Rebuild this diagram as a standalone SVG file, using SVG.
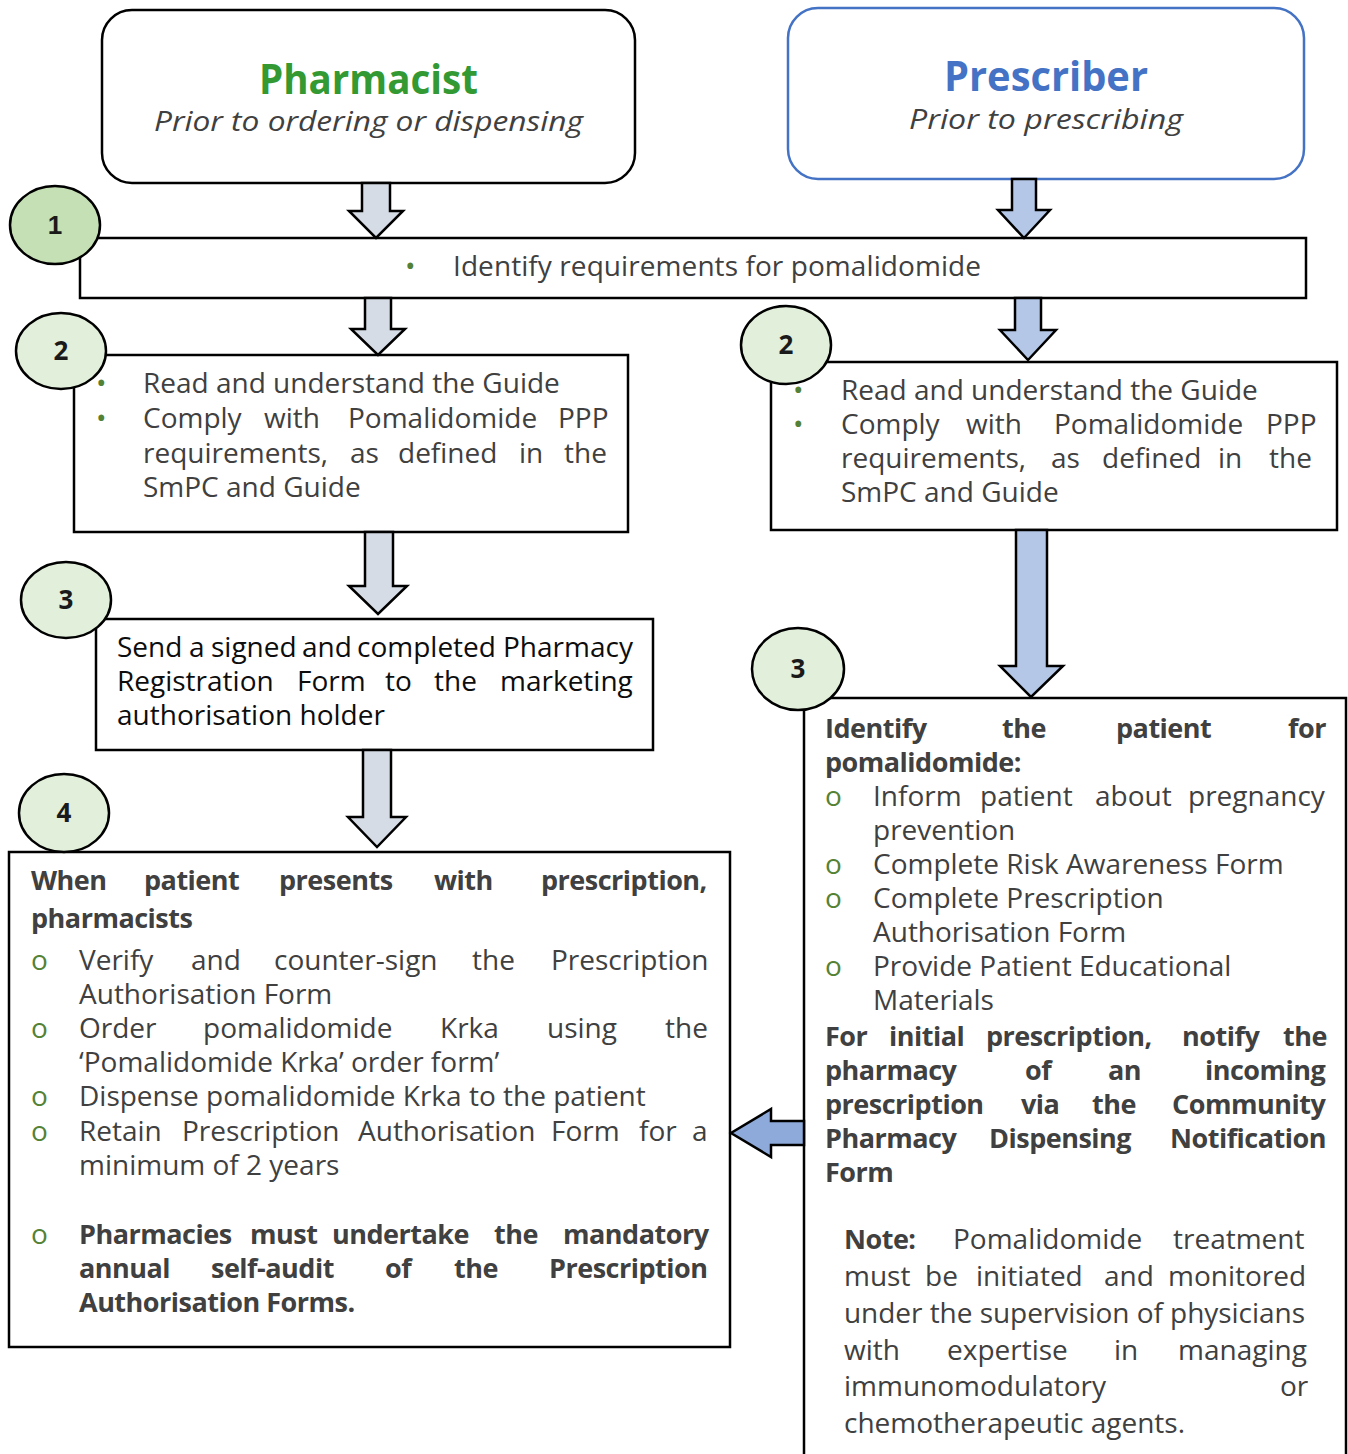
<svg xmlns="http://www.w3.org/2000/svg" width="1348" height="1454" viewBox="0 0 1348 1454">
<style>
.box{fill:#fff;stroke:#000;stroke-width:2.5}
.circ{fill:#e2efda;stroke:#000;stroke-width:2.5}
.t{font-family:"Open Sans","Liberation Sans",sans-serif;font-size:28px;fill:#404040}
.k{fill:#0d0d0d}
.b{font-weight:700;font-size:27px;letter-spacing:-0.5px}
.g{fill:#548235}
.num{font-family:"Open Sans","Liberation Sans",sans-serif;font-size:26px;font-weight:700;fill:#1a1a1a;text-anchor:middle}
.arL{fill:#d6dce5;stroke:#000;stroke-width:2.5;stroke-linejoin:miter}
.arR{fill:#b4c7e7;stroke:#000;stroke-width:2.5}
.arH{fill:#8eaadb;stroke:#000;stroke-width:2.5}
</style>
<rect width="1348" height="1454" fill="#fff"/>

<g id="pharmacist">
<rect x="102" y="10" width="533" height="173" rx="30" class="box"/>
<text x="259" y="94" font-family="Open Sans,sans-serif" font-size="42" font-weight="700" fill="#339933" textLength="219" lengthAdjust="spacingAndGlyphs">Pharmacist</text>
<text x="154" y="131" class="t" font-style="italic" textLength="429" lengthAdjust="spacingAndGlyphs">Prior to ordering or dispensing</text>
</g>

<g id="prescriber">
<rect x="788" y="8" width="516" height="171" rx="30" fill="#fff" stroke="#4472c4" stroke-width="2.5"/>
<text x="944" y="91" font-family="Open Sans,sans-serif" font-size="42" font-weight="700" fill="#4472c4" textLength="204" lengthAdjust="spacingAndGlyphs">Prescriber</text>
<text x="909" y="129" class="t" font-style="italic" textLength="274" lengthAdjust="spacingAndGlyphs">Prior to prescribing</text>
</g>

<g id="step1">
<rect x="80" y="238" width="1226" height="60" class="box"/>
<text x="405" y="276" class="t g">•</text>
<text x="453" y="276" class="t" textLength="528">Identify requirements for pomalidomide</text>
</g>

<g id="pharm-step2">
<rect x="74" y="355" width="554" height="177" class="box"/>
<text x="96" y="393" class="t g">•</text>
<text x="96" y="428" class="t g">•</text>
<text y="393" class="t"><tspan x="143">Read and understand the Guide</tspan></text>
<text y="428" class="t"><tspan x="143">Comply</tspan><tspan x="264">with</tspan><tspan x="348">Pomalidomide</tspan><tspan x="558">PPP</tspan></text>
<text y="463" class="t"><tspan x="143">requirements,</tspan><tspan x="350">as</tspan><tspan x="398">defined</tspan><tspan x="519">in</tspan><tspan x="564">the</tspan></text>
<text y="497" class="t"><tspan x="143">SmPC and Guide</tspan></text>
</g>

<g id="presc-step2">
<rect x="771" y="362" width="566" height="168" class="box"/>
<text x="793" y="400" class="t g">•</text>
<text x="793" y="434" class="t g">•</text>
<text y="400" class="t"><tspan x="841">Read and understand the Guide</tspan></text>
<text y="434" class="t"><tspan x="841">Comply</tspan><tspan x="966">with</tspan><tspan x="1054">Pomalidomide</tspan><tspan x="1266">PPP</tspan></text>
<text y="468" class="t"><tspan x="841">requirements,</tspan><tspan x="1051">as</tspan><tspan x="1102">defined</tspan><tspan x="1218">in</tspan><tspan x="1269">the</tspan></text>
<text y="502" class="t"><tspan x="841">SmPC and Guide</tspan></text>
</g>

<g id="pharm-step3">
<rect x="96" y="619" width="557" height="131" class="box"/>
<text y="657" class="t k"><tspan x="117">Send</tspan><tspan x="189">a</tspan><tspan x="211">signed</tspan><tspan x="302">and</tspan><tspan x="357">completed</tspan><tspan x="503">Pharmacy</tspan></text>
<text y="691" class="t k"><tspan x="117">Registration</tspan><tspan x="297">Form</tspan><tspan x="385">to</tspan><tspan x="434">the</tspan><tspan x="500">marketing</tspan></text>
<text y="725" class="t k"><tspan x="117">authorisation holder</tspan></text>
</g>

<g id="presc-step3">
<rect x="804" y="698" width="542" height="800" class="box"/>
<text y="738" class="t b"><tspan x="825">Identify</tspan><tspan x="1002">the</tspan><tspan x="1116">patient</tspan><tspan x="1288">for</tspan></text>
<text y="772" class="t b"><tspan x="825">pomalidomide:</tspan></text>
<text x="825" y="806" class="t g">o</text>
<text x="825" y="874" class="t g">o</text>
<text x="825" y="908" class="t g">o</text>
<text x="825" y="976" class="t g">o</text>
<text y="806" class="t"><tspan x="873">Inform</tspan><tspan x="980">patient</tspan><tspan x="1095">about</tspan><tspan x="1188">pregnancy</tspan></text>
<text y="840" class="t"><tspan x="873">prevention</tspan></text>
<text y="874" class="t"><tspan x="873">Complete Risk Awareness Form</tspan></text>
<text y="908" class="t"><tspan x="873">Complete Prescription</tspan></text>
<text y="942" class="t"><tspan x="873">Authorisation Form</tspan></text>
<text y="976" class="t"><tspan x="873">Provide Patient Educational</tspan></text>
<text y="1010" class="t"><tspan x="873">Materials</tspan></text>
<text y="1046" class="t b"><tspan x="825">For</tspan><tspan x="889">initial</tspan><tspan x="986">prescription,</tspan><tspan x="1182">notify</tspan><tspan x="1283">the</tspan></text>
<text y="1080" class="t b"><tspan x="825">pharmacy</tspan><tspan x="1025">of</tspan><tspan x="1108">an</tspan><tspan x="1205">incoming</tspan></text>
<text y="1114" class="t b"><tspan x="825">prescription</tspan><tspan x="1021">via</tspan><tspan x="1092">the</tspan><tspan x="1172">Community</tspan></text>
<text y="1148" class="t b"><tspan x="825">Pharmacy</tspan><tspan x="989">Dispensing</tspan><tspan x="1170">Notification</tspan></text>
<text y="1182" class="t b"><tspan x="825">Form</tspan></text>
<text y="1249" class="t"><tspan x="844" font-weight="700" font-size="27" letter-spacing="-0.5">Note:</tspan><tspan x="953">Pomalidomide</tspan><tspan x="1173">treatment</tspan></text>
<text y="1286" class="t"><tspan x="844">must</tspan><tspan x="925">be</tspan><tspan x="976">initiated</tspan><tspan x="1104">and</tspan><tspan x="1168">monitored</tspan></text>
<text x="844" y="1323" class="t" textLength="461" lengthAdjust="spacing">under the supervision of physicians</text>
<text y="1360" class="t"><tspan x="844">with</tspan><tspan x="947">expertise</tspan><tspan x="1114">in</tspan><tspan x="1178">managing</tspan></text>
<text y="1396" class="t"><tspan x="844">immunomodulatory</tspan><tspan x="1280">or</tspan></text>
<text y="1433" class="t"><tspan x="844">chemotherapeutic agents.</tspan></text>
</g>

<g id="pharm-step4">
<rect x="9" y="852" width="721" height="495" class="box"/>
<text y="890" class="t b"><tspan x="31">When</tspan><tspan x="144">patient</tspan><tspan x="279">presents</tspan><tspan x="434">with</tspan><tspan x="541">prescription,</tspan></text>
<text y="928" class="t b"><tspan x="31">pharmacists</tspan></text>
<text x="31" y="970" class="t g">o</text>
<text x="31" y="1038" class="t g">o</text>
<text x="31" y="1106" class="t g">o</text>
<text x="31" y="1141" class="t g">o</text>
<text x="31" y="1244" class="t g">o</text>
<text y="970" class="t"><tspan x="79">Verify</tspan><tspan x="191">and</tspan><tspan x="274">counter-sign</tspan><tspan x="472">the</tspan><tspan x="551">Prescription</tspan></text>
<text y="1004" class="t"><tspan x="79">Authorisation Form</tspan></text>
<text y="1038" class="t"><tspan x="79">Order</tspan><tspan x="203">pomalidomide</tspan><tspan x="440">Krka</tspan><tspan x="547">using</tspan><tspan x="665">the</tspan></text>
<text y="1072" class="t"><tspan x="79">‘Pomalidomide Krka’ order form’</tspan></text>
<text y="1106" class="t"><tspan x="79">Dispense pomalidomide Krka to the patient</tspan></text>
<text y="1141" class="t"><tspan x="79">Retain</tspan><tspan x="182">Prescription</tspan><tspan x="358">Authorisation</tspan><tspan x="551">Form</tspan><tspan x="639">for</tspan><tspan x="692">a</tspan></text>
<text y="1175" class="t"><tspan x="79">minimum of 2 years</tspan></text>
<text y="1244" class="t b"><tspan x="79">Pharmacies</tspan><tspan x="250">must</tspan><tspan x="332">undertake</tspan><tspan x="494">the</tspan><tspan x="563">mandatory</tspan></text>
<text y="1278" class="t b"><tspan x="79">annual</tspan><tspan x="211">self-audit</tspan><tspan x="385">of</tspan><tspan x="454">the</tspan><tspan x="549">Prescription</tspan></text>
<text y="1312" class="t b"><tspan x="79">Authorisation Forms.</tspan></text>
</g>

<g id="connectors">
<path class="arL" d="M362,183 H390 V211 H403 L376,238 L349,211 H362 Z"/>
<path class="arR" d="M1012,179 H1036 V210 H1050 L1024,238 L998,210 H1012 Z"/>
<path class="arL" d="M365,298 H391 V329 H405 L378,355 L351,329 H365 Z"/>
<path class="arR" d="M1015,298 H1041 V330 H1056 L1028,360 L1000,330 H1015 Z"/>
<path class="arL" d="M365,532 H393 V586 H407 L378,614 L349,586 H365 Z"/>
<path class="arR" d="M1016,530 H1047 V666 H1063 L1031,697 L1000,666 H1016 Z"/>
<path class="arL" d="M363,750 H391 V817 H406 L377,847 L348,817 H363 Z"/>
<path class="arH" d="M804,1121 V1145 H771 V1157 L731,1133 L771,1109 V1121 Z"/>
</g>

<g id="badges">
<g id="badge1"><ellipse cx="55" cy="225" rx="45" ry="39" fill="#c5e0b4" stroke="#000" stroke-width="2.5"/><text x="55" y="234" font-family="Liberation Sans,Arial,sans-serif" font-size="26" font-weight="700" fill="#1a1a1a" text-anchor="middle">1</text></g>
<g id="badge2L"><ellipse cx="61" cy="351" rx="45" ry="38" class="circ"/><text x="61" y="360" class="num">2</text></g>
<g id="badge2R"><ellipse cx="786" cy="345" rx="45" ry="39" class="circ"/><text x="786" y="354" class="num">2</text></g>
<g id="badge3L"><ellipse cx="66" cy="600" rx="45" ry="38" class="circ"/><text x="66" y="609" class="num">3</text></g>
<g id="badge3R"><ellipse cx="798" cy="669" rx="46" ry="41" class="circ"/><text x="798" y="678" class="num">3</text></g>
<g id="badge4"><ellipse cx="64" cy="813" rx="45" ry="39" class="circ"/><text x="64" y="822" class="num">4</text></g>
</g>
</svg>
